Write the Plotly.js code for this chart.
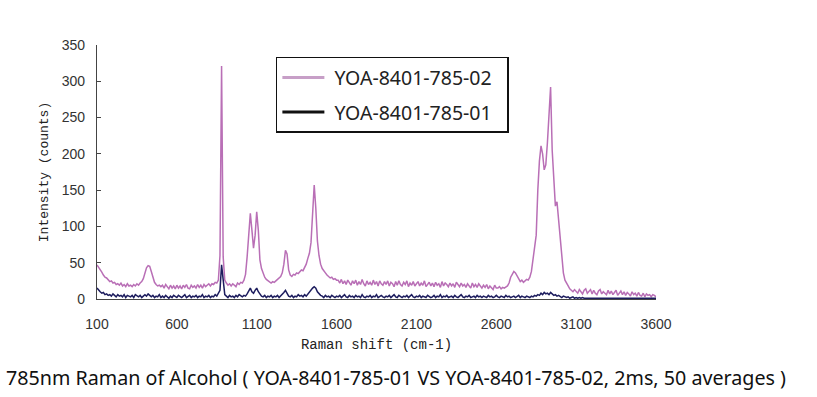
<!DOCTYPE html>
<html>
<head>
<meta charset="utf-8">
<script src="https://cdn.plot.ly/plotly-3.0.1.min.js"></script>
<style>html,body{margin:0;padding:0;background:#fff;}#chart{width:817px;height:397px;}</style>
</head>
<body>
<div id="chart"></div>
<script>
// Raman shift axis: first sample and step (cm-1)
const shiftStart = 100;
const shiftStep = 10;

// YOA-8401-785-02 intensity (counts), one value per 10 cm-1 from 100 to 3600
const series02 = [
  47,
  44, 40, 37, 33, 30, 29, 26, 24, 25, 22,
  23, 20, 21, 19, 22, 18, 20, 17, 21, 18,
  19, 17, 20, 18, 21, 19, 22, 24, 28, 36,
  43, 46, 45, 38, 29, 23, 20, 18, 19, 17,
  19, 15, 20, 16, 14, 19, 15, 18, 14, 19,
  15, 18, 14, 19, 16, 20, 15, 14, 19, 16,
  18, 15, 20, 16, 19, 15, 20, 17, 19, 21,
  18, 21, 20, 23, 22, 26, 60, 321, 58, 26,
  22, 19, 21, 18, 21, 19, 17, 22, 20, 23,
  22, 26, 34, 58, 95, 118, 95, 70, 88, 120,
  95, 54, 42, 35, 30, 27, 25, 23, 22, 24,
  23, 25, 27, 29, 31, 36, 48, 67, 62, 40,
  33, 31, 34, 33, 36, 35, 38, 40, 39, 43,
  48, 56, 63, 78, 110, 157, 125, 80, 60, 48,
  42, 38, 36, 33, 31, 29, 30, 27, 28, 26,
  26, 22, 27, 21, 25, 20, 26, 22, 19, 25,
  21, 26, 19, 24, 20, 27, 21, 18, 25, 20,
  23, 19, 26, 20, 24, 18, 25, 21, 19, 24,
  20, 25, 18, 23, 21, 17, 24, 19, 25, 20,
  18, 23, 20, 25, 17, 22, 19, 24, 18, 21,
  24, 18, 22, 19, 25, 17, 21, 23, 18, 22,
  17, 23, 19, 21, 16, 24, 18, 22, 20, 17,
  22, 18, 21, 16, 23, 19, 17, 22, 18, 20,
  16, 21, 18, 15, 22, 17, 20, 16, 21, 17,
  15, 19, 16, 20, 14, 18, 16, 13, 19, 15,
  15, 17, 14, 16, 15, 17, 18, 22, 30, 34,
  38, 36, 31, 28, 24, 26, 23, 25, 27, 26,
  30, 38, 54, 67, 88, 150, 190, 211, 200, 178,
  185, 215, 255, 292, 205, 160, 128, 134, 108, 88,
  60, 36, 26, 21, 18, 14, 12, 10, 13, 11,
  8, 13, 9, 7, 12, 14, 8, 11, 13, 7,
  12, 8, 6, 11, 13, 7, 10, 8, 6, 12,
  7, 11, 6, 9, 12, 5, 9, 11, 6, 10,
  5, 9, 7, 4, 10, 6, 8, 4, 9, 5,
  4, 8, 3, 7, 5, 6, 3, 6, 5, 3
];

// YOA-8401-785-01 intensity (counts), same sampling
const series01 = [
  15,
  12, 10, 8, 9, 6, 7, 5, 6, 4, 7,
  5, 3, 6, 4, 5, 3, 6, 2, 5, 4,
  3, 5, 2, 6, 4, 3, 5, 2, 4, 6,
  4, 7, 5, 3, 5, 2, 4, 3, 6, 2,
  4, 2, 5, 3, 1, 4, 2, 5, 3, 2,
  5, 3, 2, 4, 6, 2, 3, 5, 2, 4,
  3, 5, 2, 4, 3, 6, 2, 4, 3, 5,
  2, 4, 3, 6, 4, 8, 12, 47, 22, 6,
  4, 2, 5, 3, 4, 2, 5, 3, 6, 4,
  3, 5, 4, 7, 11, 15, 10, 8, 12, 15,
  10, 6, 4, 3, 5, 2, 4, 3, 5, 2,
  4, 3, 5, 2, 4, 6, 9, 12, 8, 4,
  3, 5, 2, 4, 3, 6, 4, 5, 3, 6,
  4, 7, 9, 12, 15, 17, 15, 10, 7, 5,
  4, 2, 5, 3, 4, 2, 5, 3, 2, 4,
  3, 5, 2, 4, 6, 3, 2, 5, 3, 4,
  2, 5, 3, 4, 2, 6, 3, 2, 4, 3,
  5, 2, 4, 3, 6, 2, 4, 5, 3, 2,
  4, 3, 5, 2, 4, 6, 3, 2, 5, 3,
  2, 4, 3, 5, 2, 4, 6, 3, 2, 4,
  3, 5, 2, 4, 3, 2, 5, 4, 2, 3,
  5, 2, 4, 3, 6, 2, 4, 3, 5, 2,
  3, 4, 2, 5, 3, 2, 4, 6, 3, 2,
  4, 3, 5, 2, 3, 4, 2, 5, 3, 4,
  2, 4, 3, 2, 5, 3, 4, 2, 3, 5,
  3, 2, 4, 3, 2, 5, 3, 4, 2, 3,
  4, 2, 3, 5, 2, 4, 3, 2, 4, 3,
  2, 4, 3, 5, 4, 6, 5, 8, 6, 9,
  7, 8, 6, 9, 7, 5, 6, 4, 5, 3,
  2, 4, 3, 2, 3, 1, 2, 3, 1, 2,
  1, 2, 1, 2, 1, 1, 2, 1, 2, 1,
  2, 1, 1, 2, 1, 2, 1, 1, 2, 1,
  1, 2, 1, 1, 2, 1, 2, 1, 1, 2,
  1, 1, 2, 1, 1, 2, 1, 1, 2, 1,
  1, 2, 1, 1, 1, 2, 1, 1, 1, 1
];

const seriesNames = ['YOA-8401-785-02', 'YOA-8401-785-01'];
const xTickVals = [100, 600, 1100, 1600, 2100, 2600, 3100, 3600];
const yTickVals = [0, 50, 100, 150, 200, 250, 300, 350];
const xTitle = 'Raman shift (cm-1)';
const yTitle = 'Intensity (counts)';
const caption = '785nm Raman of Alcohol ( YOA-8401-785-01 VS YOA-8401-785-02, 2ms, 50 averages )';

const pink = '#b96fb6';
const navy = '#1d1d5e';

const traces = [
  {type: 'scatter', mode: 'lines', x0: shiftStart, dx: shiftStep, y: series02,
   line: {color: pink, width: 1.5}, showlegend: false, hoverinfo: 'skip'},
  {type: 'scatter', mode: 'lines', x0: shiftStart, dx: shiftStep, y: series01,
   line: {color: navy, width: 1.5}, showlegend: false, hoverinfo: 'skip'},
  {type: 'scatter', mode: 'lines', x: [null], y: [null], name: '\u00a0' + seriesNames[0] + '\u00a0\u00a0',
   line: {color: '#c79fc7', width: 3}, legendgroup: 'a'},
  {type: 'scatter', mode: 'lines', x: [null], y: [null], name: '\u00a0' + seriesNames[1] + '\u00a0\u00a0',
   line: {color: '#111111', width: 3}, legendgroup: 'b'}
];

const layout = {
  width: 817, height: 397,
  margin: {l: 97, r: 161, t: 45, b: 98},
  paper_bgcolor: '#ffffff', plot_bgcolor: '#ffffff',
  showlegend: true,
  legend: {
    x: 0.32, y: 0.953, xanchor: 'left', yanchor: 'top',
    bordercolor: '#111', borderwidth: 1.5, bgcolor: '#fff',
    font: {family: 'Noto Sans, Open Sans, sans-serif', size: 19.5, color: '#222'},
    tracegroupgap: 6, traceorder: 'grouped', itemwidth: 42
  },
  xaxis: {
    range: [shiftStart, 3600], tickvals: xTickVals, ticktext: xTickVals.map(String),
    showgrid: false, zeroline: false, showline: true, linecolor: '#444', linewidth: 1,
    ticks: '', ticklabelstandoff: 12,
    tickfont: {family: 'Liberation Sans, Arial, sans-serif', size: 14, color: '#333'},
    title: {text: xTitle, standoff: 8,
      font: {family: 'Liberation Mono, DejaVu Sans Mono, monospace', size: 14, color: '#222'}}
  },
  yaxis: {
    range: [0, 350], tickvals: yTickVals, ticktext: yTickVals.map(String),
    showgrid: false, zeroline: false, showline: true, linecolor: '#444', linewidth: 1.2,
    ticks: 'inside', ticklen: 4, tickcolor: '#444', ticklabelstandoff: 8,
    tickfont: {family: 'Liberation Sans, Arial, sans-serif', size: 14, color: '#333'},
    title: {text: yTitle, standoff: 10,
      font: {family: 'Liberation Mono, DejaVu Sans Mono, monospace', size: 13, color: '#222'}}
  },
  annotations: [{
    text: caption, xref: 'paper', yref: 'paper', x: -0.166, y: -0.31,
    xanchor: 'left', yanchor: 'middle', showarrow: false,
    font: {family: 'Noto Sans, Open Sans, sans-serif', size: 19.7, color: '#111'}
  }]
};

Plotly.newPlot('chart', traces, layout, {displayModeBar: false, staticPlot: true});
</script>
</body>
</html>
